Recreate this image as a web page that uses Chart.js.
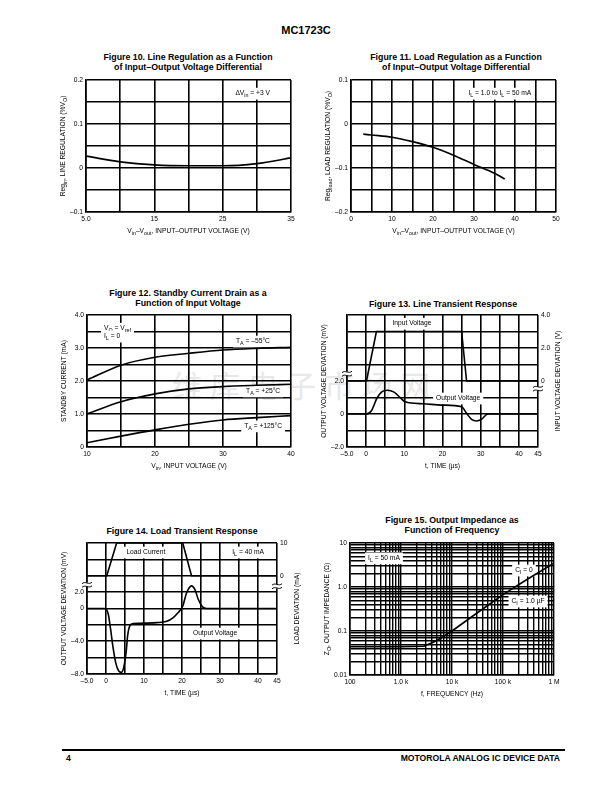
<!DOCTYPE html>
<html>
<head>
<meta charset="utf-8">
<script src="https://cdn.jsdelivr.net/npm/chart.js@4.4.1/dist/chart.umd.min.js"></script>
<style>
  body { margin: 0; width: 612px; height: 792px; position: relative; overflow: hidden; background: #fff;
         font-family: "Liberation Sans", Arial, Helvetica, sans-serif; color: #000; }
  canvas { position: absolute; z-index: 1; }
  .title { position: absolute; font-weight: bold; font-size: 8.8px; line-height: 10px; text-align: center;
           white-space: nowrap; transform: translateX(-50%); }
  #header { position: absolute; left: 306px; top: 24px; transform: translateX(-50%); font-weight: bold; font-size: 11px; }
  #rule { position: absolute; left: 62px; top: 749px; width: 503px; height: 1.5px; background: #000; }
  .foot { position: absolute; top: 753px; font-weight: bold; font-size: 8.6px; }
  #mark { position: absolute; left: 172px; top: 362px; font-family: "Noto Sans CJK SC", sans-serif; font-size: 30px;
          letter-spacing: 8px; color: #e8e8e8; z-index: 0; }
</style>
</head>
<body>
<div id="header">MC1723C</div>
<div class="title" style="left:188px;top:52px">Figure 10. Line Regulation as a Function<br>of Input–Output Voltage Differential</div>
<div class="title" style="left:456px;top:52px">Figure 11. Load Regulation as a Function<br>of Input–Output Voltage Differential</div>
<div class="title" style="left:188px;top:288px">Figure 12. Standby Current Drain as a<br>Function of Input Voltage</div>
<div class="title" style="left:443px;top:299px">Figure 13. Line Transient Response</div>
<div class="title" style="left:182px;top:526px">Figure 14. Load Transient Response</div>
<div class="title" style="left:452px;top:515px">Figure 15. Output Impedance as<br>Function of Frequency</div>
<div id="mark">维库电子市场网</div>
<div id="rule"></div>
<div class="foot" style="left:66px">4</div>
<div class="foot" style="right:52px">MOTOROLA ANALOG IC DEVICE DATA</div>

<script>
// --- Figure 10: line regulation ---
const fig10Volt = [5, 10, 15, 20, 25, 30, 35];
const fig10Reg = [0.027, 0.014, 0.007, 0.005, 0.005, 0.01, 0.023];
const fig10XTicks = [5, 10, 15, 20, 25, 30, 35];
const fig10XLabels = ['5.0', '', '15', '', '25', '', '35'];
const fig10YTicks = [-0.1, -0.05, 0, 0.05, 0.1, 0.15, 0.2];
const fig10YLabels = ['–0.1', '', '0', '', '0.1', '', '0.2'];

// --- Figure 11: load regulation ---
const fig11Volt = [3, 5, 10, 15, 20, 25, 30, 35, 37.5];
const fig11Reg = [-0.023, -0.025, -0.030, -0.040, -0.053, -0.071, -0.092, -0.112, -0.125];
const fig11XTicks = [0, 5, 10, 15, 20, 25, 30, 35, 40, 45, 50];
const fig11XLabels = ['0', '', '10', '', '20', '', '30', '', '40', '', '50'];
const fig11YTicks = [-0.2, -0.15, -0.1, -0.05, 0, 0.05, 0.1];
const fig11YLabels = ['–0.2', '', '–0.1', '', '0', '', '0.1'];

// --- Figure 12: standby current ---
const fig12Vin = [10, 15, 20, 25, 30, 35, 40];
const fig12Cold = [2.03, 2.48, 2.72, 2.84, 2.94, 2.99, 3.02];
const fig12Room = [1.0, 1.37, 1.61, 1.76, 1.83, 1.87, 1.9];
const fig12Hot = [0.13, 0.33, 0.52, 0.69, 0.82, 0.89, 0.95];
const fig12XTicks = [10, 15, 20, 25, 30, 35, 40];
const fig12XLabels = ['10', '', '20', '', '30', '', '40'];
const fig12YTicks = [0, 0.5, 1, 1.5, 2, 2.5, 3, 3.5, 4];
const fig12YLabels = ['0', '', '1.0', '', '2.0', '', '3.0', '', '4.0'];

// --- Figure 13: line transient ---
const fig13InT = [-5, 0.1, 2.7, 25, 26.3, 45];
const fig13InV = [0, 0, 3, 3, 0, 0];
const fig13OutT = [-5, 0, 1.4, 2.8, 4.1, 5.6, 7.2, 8.9, 10.2, 15, 20, 25, 26.3, 27.6, 28.9, 30.2, 31.5, 32, 45];
const fig13OutMv = [0, 0, 0.2, 0.94, 1.34, 1.44, 1.34, 1.0, 0.74, 0.62, 0.54, 0.44, 0.04, -0.32, -0.42, -0.32, -0.04, 0, 0];
const fig13XTicks = [-5, 0, 5, 10, 15, 20, 25, 30, 35, 40, 45];
const fig13XLabels = ['–5.0', '0', '', '10', '', '20', '', '30', '', '40', '45'];
const fig13YTicks = [-2, -1, 0, 1, 2, 3, 4, 5, 6];
const fig13YLabels = ['–2.0', '', '0', '', '2.0', '', '', '', ''];
const fig13Y1Ticks = [-4, -3, -2, -1, 0, 1, 2, 3, 4];
const fig13Y1Labels = ['', '', '', '', '0', '', '2.0', '', '4.0'];

// --- Figure 14: load transient ---
const fig14LoadT = [-5, 0.2, 2.8, 20.2, 22.5, 45];
const fig14LoadMa = [0, 0, 10, 10, 0, 0];
const fig14OutT = [-5, -0.3, 0.6, 1.2, 1.9, 2.6, 3.3, 4.1, 4.7, 5.3, 5.7, 6.3, 7.2, 8.9, 13.3, 16, 17.7, 19, 20.2, 21.2, 22.5, 23.4, 24.3, 25.4, 26.5, 45];
const fig14OutMv = [0, 0, -0.7, -2.5, -4.9, -6.7, -7.6, -7.8, -7.1, -5.3, -3.3, -2.1, -1.84, -1.8, -1.72, -1.56, -1.1, -0.5, 0.3, 1.9, 2.76, 2.3, 1.1, 0.2, 0, 0];
const fig14XTicks = [-5, 0, 5, 10, 15, 20, 25, 30, 35, 40, 45];
const fig14XLabels = ['–5.0', '0', '', '10', '', '20', '', '30', '', '40', '45'];
const fig14YTicks = [-8, -6, -4, -2, 0, 2, 4, 6, 8];
const fig14YLabels = ['–8.0', '', '–4.0', '', '0', '2.0', '', '', ''];
const fig14Y1Ticks = [-30, -25, -20, -15, -10, -5, 0, 5, 10];
const fig14Y1Labels = ['', '', '', '', '', '', '0', '', '10'];

// --- Figure 15: output impedance ---
const fig15Freq = [100, 1000, 2800, 5000, 10000, 30000, 100000, 300000, 1000000];
const fig15Z = [0.044, 0.044, 0.045, 0.06, 0.1, 0.25, 0.67, 1.5, 3.5];
const fig15XMajor = [100, 1000, 10000, 100000, 1000000];
const fig15XLabels = ['100', '1.0 k', '10 k', '100 k', '1 M'];
const fig15YMajor = [0.01, 0.1, 1, 10];
const fig15YLabels = ['0.01', '0.1', '1.0', '10'];

const FONT = '"Liberation Sans", Arial, Helvetica, sans-serif';
const SMALL = 6.7;

function pts(xs, ys) {
  return xs.map((x, i) => ({ x: x, y: ys[i] }));
}

function curve(xs, ys, axis, smooth) {
  return {
    data: pts(xs, ys), yAxisID: axis || 'y',
    borderColor: '#000', borderWidth: 1.6, pointRadius: 0, fill: false,
    cubicInterpolationMode: smooth === false ? 'default' : 'monotone', tension: 0
  };
}

function linAxis(ticks, labels, pos, withGrid) {
  return {
    type: 'linear', position: pos, min: ticks[0], max: ticks[ticks.length - 1],
    afterBuildTicks: s => { s.ticks = ticks.map(v => ({ value: v })); },
    ticks: { autoSkip: false, maxRotation: 0, padding: 3, color: '#000',
             font: { family: FONT, size: SMALL }, callback: (v, i) => labels[i] },
    grid: { display: withGrid !== false, color: '#000', lineWidth: 1.6, drawTicks: false },
    border: { display: withGrid !== false, color: '#000', width: 1.6 }
  };
}

function logAxis(min, max, majors, labels, pos) {
  const lines = [];
  for (let d = min; d < max * 0.999; d *= 10) {
    for (let m = 1; m < 10; m++) lines.push(d * m);
  }
  lines.push(max);
  return {
    type: 'logarithmic', position: pos, min: min, max: max,
    afterBuildTicks: s => { s.ticks = lines.map(v => ({ value: v })); },
    ticks: { autoSkip: false, maxRotation: 0, padding: 3, color: '#000',
             font: { family: FONT, size: SMALL },
             callback: v => {
               const i = majors.findIndex(m => Math.abs(m - v) / m < 1e-6);
               return i < 0 ? '' : labels[i];
             } },
    grid: { color: '#000', lineWidth: 1.4, drawTicks: false },
    border: { color: '#000', width: 1.6 }
  };
}

// text with _{subscript} pieces
function richParts(s) {
  const out = [];
  const re = /_\{([^}]*)\}/g;
  let last = 0, m;
  while ((m = re.exec(s))) {
    if (m.index > last) out.push({ t: s.slice(last, m.index), sub: false });
    out.push({ t: m[1], sub: true });
    last = re.lastIndex;
  }
  if (last < s.length) out.push({ t: s.slice(last), sub: false });
  return out;
}

function drawRich(ctx, s, x, y, size, align, bg) {
  const parts = richParts(s);
  let w = 0;
  parts.forEach(p => {
    ctx.font = (p.sub ? size * 0.8 : size) + 'px ' + FONT;
    p.w = ctx.measureText(p.t).width;
    w += p.w;
  });
  let x0 = align === 'center' ? x - w / 2 : align === 'right' ? x - w : x;
  if (bg) {
    ctx.fillStyle = '#fff';
    ctx.fillRect(x0 - 3, y - size * 0.8, w + 6, size * 1.75);
  }
  ctx.fillStyle = '#000';
  ctx.textAlign = 'left';
  ctx.textBaseline = 'middle';
  parts.forEach(p => {
    ctx.font = (p.sub ? size * 0.8 : size) + 'px ' + FONT;
    ctx.fillText(p.t, x0, p.sub ? y + size * 0.35 : y);
    x0 += p.w;
  });
}

function drawBreak(ctx, x, y) {
  ctx.save();
  ctx.fillStyle = '#fff';
  ctx.fillRect(x - 2, y - 2.2, 4, 4.4);
  ctx.strokeStyle = '#000';
  ctx.lineWidth = 1;
  [-1.8, 1.8].forEach(d => {
    ctx.beginPath();
    ctx.moveTo(x - 5, y + d + 0.8);
    ctx.bezierCurveTo(x - 2, y + d - 2.5, x + 2, y + d + 2.5, x + 5, y + d - 0.8);
    ctx.stroke();
  });
  ctx.restore();
}

const sheetText = {
  id: 'sheetText',
  beforeDatasetsDraw(chart, args, opts) {
    const ctx = chart.ctx;
    ctx.save();
    (opts.notes || []).forEach(n => {
      const px = chart.scales.x.getPixelForValue(n.x);
      const py = chart.scales[n.axis || 'y'].getPixelForValue(n.y);
      drawRich(ctx, n.text, px, py, SMALL, n.align || 'center', n.bg !== false);
    });
    ctx.restore();
  },
  afterDraw(chart, args, opts) {
    const ctx = chart.ctx;
    const a = chart.chartArea;
    ctx.save();
    if (opts.xTitle) drawRich(ctx, opts.xTitle, (a.left + a.right) / 2, a.bottom + 19, SMALL, 'center');
    const vTitle = (text, x) => {
      ctx.save();
      ctx.translate(x, (a.top + a.bottom) / 2);
      ctx.rotate(-Math.PI / 2);
      drawRich(ctx, text, 0, 0, SMALL, 'center');
      ctx.restore();
    };
    if (opts.yTitle) vTitle(opts.yTitle, a.left - 23);
    if (opts.y1Title) vTitle(opts.y1Title, a.right + 20);
    (opts.breaks || []).forEach(b => {
      const py = chart.scales[b.axis].getPixelForValue(b.value);
      drawBreak(ctx, b.axis === 'y' ? a.left : a.right, py);
    });
    ctx.restore();
  }
};

function makeChart(plot, spec) {
  const ML = 56, MR = 44, MT = 10, MB = 34, XH = 14, YW = 26, Y1W = 22;
  const cv = document.createElement('canvas');
  const w = plot.r - plot.l + ML + MR;
  const h = plot.b - plot.t + MT + MB;
  cv.width = w; cv.height = h;
  cv.style.width = w + 'px'; cv.style.height = h + 'px';
  cv.style.left = (plot.l - ML) + 'px';
  cv.style.top = (plot.t - MT) + 'px';
  document.body.appendChild(cv);

  const scales = { x: spec.x, y: spec.y };
  scales.x.afterFit = s => { s.height = XH; };
  scales.y.afterFit = s => { s.width = YW; };
  if (spec.y1) {
    scales.y1 = spec.y1;
    scales.y1.afterFit = s => { s.width = Y1W; };
  }
  new Chart(cv, {
    type: 'line',
    data: { datasets: spec.datasets },
    options: {
      responsive: false,
      animation: false,
      layout: { padding: { left: ML - YW, right: MR - (spec.y1 ? Y1W : 0), top: MT, bottom: MB - XH } },
      scales: scales,
      plugins: { legend: { display: false }, tooltip: { enabled: false }, sheetText: spec.text }
    },
    plugins: [sheetText]
  });
}

makeChart({ l: 86, t: 80, r: 291, b: 212 }, {
  datasets: [curve(fig10Volt, fig10Reg)],
  x: linAxis(fig10XTicks, fig10XLabels, 'bottom'),
  y: linAxis(fig10YTicks, fig10YLabels, 'left'),
  text: {
    xTitle: 'V_{in}–V_{out}, INPUT–OUTPUT VOLTAGE (V)',
    yTitle: 'Reg_{in}, LINE REGULATION (%V_{O})',
    notes: [{ x: 29.4, y: 0.17, text: 'ΔV_{in} = +3 V' }]
  }
});

makeChart({ l: 351, t: 80, r: 556, b: 212 }, {
  datasets: [curve(fig11Volt, fig11Reg)],
  x: linAxis(fig11XTicks, fig11XLabels, 'bottom'),
  y: linAxis(fig11YTicks, fig11YLabels, 'left'),
  text: {
    xTitle: 'V_{in}–V_{out}, INPUT–OUTPUT VOLTAGE (V)',
    yTitle: 'Reg_{load}, LOAD REGULATION (%V_{O})',
    notes: [{ x: 36.3, y: 0.07, text: 'I_{L} = 1.0 to I_{L} = 50 mA' }]
  }
});

makeChart({ l: 87, t: 315, r: 291, b: 447 }, {
  datasets: [curve(fig12Vin, fig12Cold), curve(fig12Vin, fig12Room), curve(fig12Vin, fig12Hot)],
  x: linAxis(fig12XTicks, fig12XLabels, 'bottom'),
  y: linAxis(fig12YTicks, fig12YLabels, 'left'),
  text: {
    xTitle: 'V_{in}, INPUT VOLTAGE (V)',
    yTitle: 'STANDBY CURRENT (mA)',
    notes: [
      { x: 12.5, y: 3.6, text: 'V_{O} = V_{ref}', align: 'left' },
      { x: 12.5, y: 3.36, text: 'I_{L} = 0', align: 'left' },
      { x: 34.4, y: 3.21, text: 'T_{A} = –55°C' },
      { x: 35.9, y: 1.7, text: 'T_{A} = +25°C' },
      { x: 35.9, y: 0.64, text: 'T_{A} = +125°C' }
    ]
  }
});

makeChart({ l: 347, t: 315, r: 538, b: 447 }, {
  datasets: [curve(fig13InT, fig13InV, 'y1', false), curve(fig13OutT, fig13OutMv, 'y')],
  x: linAxis(fig13XTicks, fig13XLabels, 'bottom'),
  y: linAxis(fig13YTicks, fig13YLabels, 'left'),
  y1: linAxis(fig13Y1Ticks, fig13Y1Labels, 'right', false),
  text: {
    xTitle: 't, TIME (µs)',
    yTitle: 'OUTPUT VOLTAGE DEVIATION (mV)',
    y1Title: 'INPUT VOLTAGE DEVIATION (V)',
    notes: [
      { x: 12.0, y: 3.5, axis: 'y1', text: 'Input Voltage' },
      { x: 24.1, y: 0.97, text: 'Output Voltage' }
    ],
    breaks: [{ axis: 'y', value: 2.44 }, { axis: 'y1', value: -0.46 }]
  }
});

makeChart({ l: 87, t: 543, r: 277, b: 674 }, {
  datasets: [curve(fig14LoadT, fig14LoadMa, 'y1', false), curve(fig14OutT, fig14OutMv, 'y')],
  x: linAxis(fig14XTicks, fig14XLabels, 'bottom'),
  y: linAxis(fig14YTicks, fig14YLabels, 'left'),
  y1: linAxis(fig14Y1Ticks, fig14Y1Labels, 'right', false),
  text: {
    xTitle: 't, TIME (µs)',
    yTitle: 'OUTPUT VOLTAGE DEVIATION (mV)',
    y1Title: 'LOAD DEVIATION (mA)',
    notes: [
      { x: 10.5, y: 7.25, axis: 'y1', text: 'Load Current' },
      { x: 37.4, y: 7.25, axis: 'y1', text: 'I_{L} = 40 mA' },
      { x: 28.7, y: -3.0, text: 'Output Voltage' }
    ],
    breaks: [{ axis: 'y', value: 2.9 }, { axis: 'y1', value: -3.2 }]
  }
});

makeChart({ l: 350, t: 543, r: 554, b: 675 }, {
  datasets: [curve(fig15Freq, fig15Z, 'y', false)],
  x: logAxis(100, 1000000, fig15XMajor, fig15XLabels, 'bottom'),
  y: logAxis(0.01, 10, fig15YMajor, fig15YLabels, 'left'),
  text: {
    xTitle: 'f, FREQUENCY (Hz)',
    yTitle: 'Z_{O}, OUTPUT IMPEDANCE (Ω)',
    notes: [
      { x: 464, y: 4.6, text: 'I_{L} = 50 mA' },
      { x: 258000, y: 2.43, text: 'C_{I} = 0' },
      { x: 310000, y: 0.48, text: 'C_{I} = 1.0 µF' }
    ]
  }
});
</script>
</body>
</html>
